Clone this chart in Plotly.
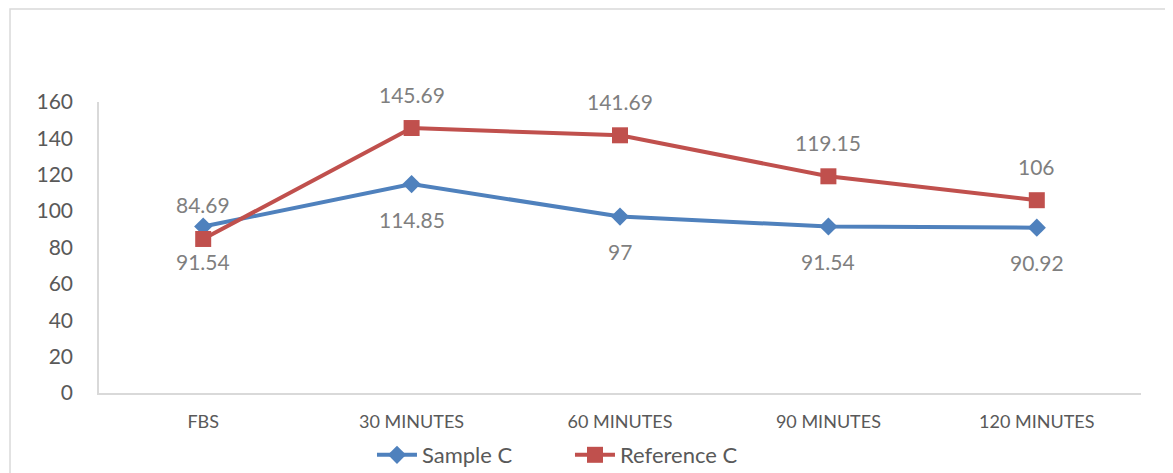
import plotly.graph_objects as go

categories = ["FBS", "30 MINUTES", "60 MINUTES", "90 MINUTES", "120 MINUTES"]
sample_c = [91.54, 114.85, 97, 91.54, 90.92]
reference_c = [84.69, 145.69, 141.69, 119.15, 106]
sample_labels = ["91.54", "114.85", "97", "91.54", "90.92"]
reference_labels = ["84.69", "145.69", "141.69", "119.15", "106"]
y_ticks = [0, 20, 40, 60, 80, 100, 120, 140, 160]

BLUE = "#4f81bd"
RED = "#c0504d"
FONT = "Lato"

fig = go.Figure()
fig.add_trace(go.Scatter(
    x=categories, y=sample_c, name="Sample C", mode="lines+markers",
    line=dict(color=BLUE, width=4),
    marker=dict(symbol="diamond", size=14, color=BLUE),
))
fig.add_trace(go.Scatter(
    x=categories, y=reference_c, name="Reference C", mode="lines+markers",
    line=dict(color=RED, width=4),
    marker=dict(symbol="square", size=16, color=RED),
))

annotations = []
for c, v, t in zip(categories, sample_c, sample_labels):
    annotations.append(dict(x=c, y=v, text=t, showarrow=False, yshift=-35,
                            font=dict(family=FONT, size=21, color="#7f7f7f")))
for c, v, t in zip(categories, reference_c, reference_labels):
    annotations.append(dict(x=c, y=v, text=t, showarrow=False, yshift=34,
                            font=dict(family=FONT, size=21, color="#7f7f7f")))

fig.update_layout(
    width=1165, height=465,
    margin=dict(l=91, r=32, t=94, b=80, autoexpand=False),
    paper_bgcolor="white", plot_bgcolor="white",
    font=dict(family=FONT, color="#595959"),
    showlegend=True,
    legend=dict(orientation="h", xref="paper", x=0.452, xanchor="center",
                yref="container", y=0.0387, yanchor="middle",
                font=dict(family=FONT, size=22, color="#595959"),
                itemwidth=40, entrywidth=143, entrywidthmode="pixels",
                bgcolor="rgba(0,0,0,0)"),
    xaxis=dict(
        type="category", range=[-0.5, 4.5], showgrid=False,
        showline=True, linecolor="#d9d9d9", linewidth=1.5,
        ticks="", tickfont=dict(family=FONT, size=18, color="#595959"),
        ticklabelstandoff=12, zeroline=False, automargin=False,
    ),
    yaxis=dict(
        range=[0, 160], tickvals=y_ticks, showgrid=False,
        showline=True, linecolor="#d9d9d9", linewidth=1.5,
        ticks="", tickfont=dict(family=FONT, size=21, color="#595959"),
        ticklabelstandoff=20, zeroline=False, automargin=False,
    ),
    annotations=annotations,
    shapes=[dict(type="rect", xref="paper", yref="paper",
                 x0=-0.0854, x1=1.2, y0=-0.6, y1=1.3196,
                 line=dict(color="#d9d9d9", width=1.5), layer="below")],
)

fig.write_html("out.html")
